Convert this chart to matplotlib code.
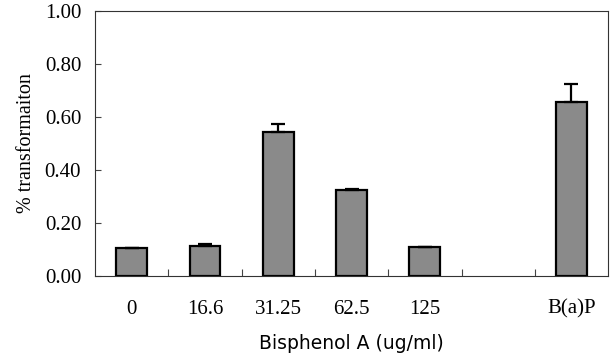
import numpy as np
import matplotlib.pyplot as plt

# data
categories = ['0', '16.6', '31.25', '62.5', '125', '', 'B(a)P']
values = [0.105, 0.113, 0.542, 0.325, 0.108, np.nan, 0.655]
errors = [0.0, 0.006, 0.032, 0.003, 0.003, 0.0, 0.07]

fig = plt.figure(figsize=(6.13, 3.56), dpi=100)
ax = fig.add_axes([0.155, 0.225, 0.837, 0.744])

x = np.arange(len(categories))
ax.bar(x, values, width=0.42, color='#8a8a8a', edgecolor='black', linewidth=1.6,
       yerr=[np.zeros(len(errors)), errors],
       error_kw=dict(ecolor='black', elinewidth=1.6, capsize=5, capthick=1.6))

ax.set_xlim(-0.5, len(categories) - 0.5)
ax.set_ylim(0, 1.0)
ax.set_yticks(np.arange(0, 1.01, 0.2))
ax.set_yticklabels(['%.2f' % v for v in np.arange(0, 1.01, 0.2)],
                   family='Liberation Serif', fontsize=15)
ax.set_xticks(x)
ax.set_xticklabels(categories, family='Liberation Serif', fontsize=15)
ax.tick_params(axis='x', which='major', length=0, pad=17)
ax.set_xticks(np.arange(0.5, len(categories) - 1), minor=True)
ax.tick_params(axis='x', which='minor', direction='in', length=5, width=0.8, color='#444444')
ax.tick_params(axis='y', direction='in', length=4, width=0.8, color='#444444', pad=10)

for s in ax.spines.values():
    s.set_linewidth(0.8)
    s.set_color('#333333')

ax.set_ylabel('% transformaiton', family='Liberation Serif', fontsize=14.5, labelpad=6)
ax.set_xlabel('Bisphenol A (ug/ml)', family='DejaVu Sans', fontsize=13.5, labelpad=11)

plt.savefig('out.png', dpi=100)
plt.close()
